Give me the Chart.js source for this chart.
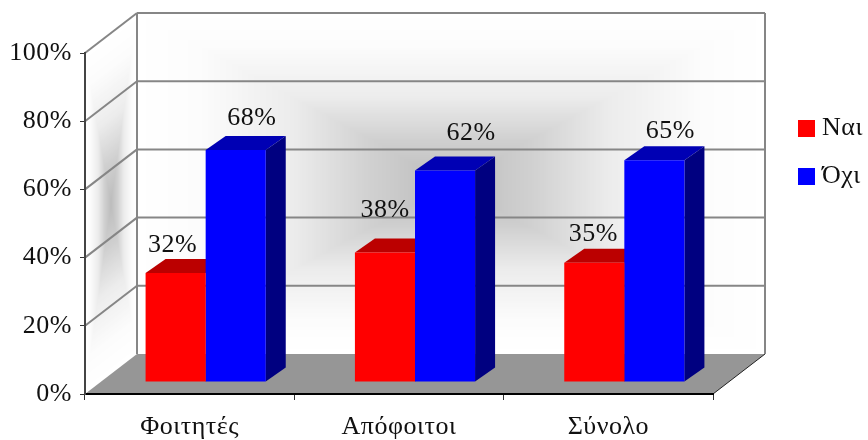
<!DOCTYPE html>
<html>
<head>
<meta charset="utf-8">
<title>Chart</title>
<style>
  html, body { margin: 0; padding: 0; background: #fff; }
  canvas { display: block; }
</style>
<script src="https://cdn.jsdelivr.net/npm/chart.js@4/dist/chart.umd.min.js"></script>
</head>
<body>
<canvas id="chart" width="868" height="440"></canvas>
<script>
const categories = ['Φοιτητές', 'Απόφοιτοι', 'Σύνολο'];
const yesValues = [32, 38, 35];
const noValues = [68, 62, 65];

const FONT = '"Liberation Serif", serif';
const FONT_SIZE = 26;

// hand placed value labels, px away from the top centre of each bar
const yesLabelOffsets = [[-3, -28], [0, -42], [-1, -28]];
const noLabelOffsets = [[16, -32], [26, -37], [16, -29]];

const WALL = { dx: 52, dy: -40 };     // depth of the chart box
const BAR_SHIFT = { dx: 16, dy: -12 }; // bars stand inside the floor
const BAR_DEPTH = { dx: 20, dy: -14 };
const GRID_COLOR = '#868686';

const barShades = [
  { top: '#bb0000', side: '#800000' },
  { top: '#0000b4', side: '#000080' }
];

// rectangular "path" gradient, white on the edges and grey in the middle
const GREY_STOPS = [[0, 255], [0.2, 252], [0.5, 236], [0.75, 208], [1, 188]];

function greyAt(t) {
  for (let i = 1; i < GREY_STOPS.length; i++) {
    const [t0, g0] = GREY_STOPS[i - 1];
    const [t1, g1] = GREY_STOPS[i];
    if (t <= t1) return g0 + (g1 - g0) * (t - t0) / (t1 - t0);
  }
  return 188;
}

function makeWallImage(w, h) {
  const c = document.createElement('canvas');
  c.width = w; c.height = h;
  const g = c.getContext('2d');
  const img = g.createImageData(w, h);
  for (let y = 0; y < h; y++) {
    for (let x = 0; x < w; x++) {
      const u = Math.abs((x + 0.5) / w * 2 - 1);
      const v = Math.abs((y + 0.5) / h * 2 - 1);
      const grey = greyAt(1 - Math.max(u, v));
      const i = (y * w + x) * 4;
      img.data[i] = img.data[i + 1] = img.data[i + 2] = grey;
      img.data[i + 3] = 255;
    }
  }
  g.putImageData(img, 0, 0);
  return c;
}

const wallImage = makeWallImage(314, 170);

function polygon(ctx, pts, fill) {
  ctx.beginPath();
  pts.forEach(([x, y], i) => (i ? ctx.lineTo(x, y) : ctx.moveTo(x, y)));
  ctx.closePath();
  ctx.fillStyle = fill;
  ctx.fill();
}

function line(ctx, x0, y0, x1, y1, color, width) {
  ctx.beginPath();
  ctx.moveTo(x0, y0);
  ctx.lineTo(x1, y1);
  ctx.strokeStyle = color;
  ctx.lineWidth = width;
  ctx.stroke();
}

const boxPlugin = {
  id: 'box3d',
  beforeDraw(chart) {
    const { ctx, chartArea: a, scales } = chart;
    const { dx, dy } = WALL;
    // stays on the context so the axis labels get it too
    ctx.letterSpacing = '0.5px';
    ctx.save();

    // back wall
    ctx.drawImage(wallImage, a.left + dx, a.top + dy, a.right - a.left, a.bottom - a.top);

    // left wall, same picture sheared into place
    ctx.save();
    ctx.transform(dx / wallImage.width, dy / wallImage.width, 0,
      (a.bottom - a.top) / wallImage.height, a.left, a.top);
    ctx.drawImage(wallImage, 0, 0);
    ctx.restore();

    // floor
    polygon(ctx, [[a.left, a.bottom], [a.right, a.bottom],
      [a.right + dx, a.bottom + dy], [a.left + dx, a.bottom + dy]], '#969696');
    line(ctx, a.right, a.bottom, a.right + dx, a.bottom + dy, '#222', 1);

    // gridlines over both walls
    scales.y.ticks.forEach(t => {
      if (t.value === 0) return;
      const y = scales.y.getPixelForValue(t.value);
      line(ctx, a.left, y, a.left + dx, y + dy, GRID_COLOR, 2);
      line(ctx, a.left + dx, y + dy, a.right + dx, y + dy, GRID_COLOR, 2);
    });
    line(ctx, a.left + dx, a.top + dy, a.left + dx, a.bottom + dy, GRID_COLOR, 2);
    line(ctx, a.right + dx, a.top + dy, a.right + dx, a.bottom + dy, GRID_COLOR, 2);
    ctx.restore();
  },
  beforeDatasetsDraw(chart) {
    const { ctx } = chart;
    ctx.save();
    ctx.translate(BAR_SHIFT.dx, BAR_SHIFT.dy);
    const { dx, dy } = BAR_DEPTH;
    chart.data.datasets.forEach((ds, di) => {
      chart.getDatasetMeta(di).data.forEach(bar => {
        const l = bar.x - bar.width / 2, r = bar.x + bar.width / 2;
        polygon(ctx, [[l, bar.y], [l + dx, bar.y + dy], [r + dx, bar.y + dy], [r, bar.y]], barShades[di].top);
        polygon(ctx, [[r, bar.y], [r + dx, bar.y + dy], [r + dx, bar.base + dy], [r, bar.base]], barShades[di].side);
      });
    });
  },
  afterDatasetsDraw(chart) {
    const { ctx } = chart;
    ctx.restore();

    // value labels
    ctx.save();
    ctx.font = FONT_SIZE + 'px ' + FONT;
    ctx.fillStyle = '#111';
    ctx.textAlign = 'center';
    ctx.textBaseline = 'middle';
    [yesLabelOffsets, noLabelOffsets].forEach((offsets, di) => {
      chart.getDatasetMeta(di).data.forEach((bar, i) => {
        const v = chart.data.datasets[di].data[i];
        ctx.fillText(v + '%', bar.x + BAR_SHIFT.dx + offsets[i][0],
          bar.y + BAR_SHIFT.dy + offsets[i][1]);
      });
    });

    // legend
    ctx.textAlign = 'left';
    chart.data.datasets.forEach((ds, di) => {
      const y = 120 + di * 48;
      ctx.fillStyle = ds.backgroundColor;
      ctx.fillRect(798, y, 17, 17);
      ctx.fillStyle = '#111';
      ctx.fillText(ds.label, 822, y + 8);
    });
    ctx.restore();
  }
};

const chart = new Chart(document.getElementById('chart').getContext('2d'), {
  type: 'bar',
  data: {
    labels: categories,
    datasets: [
      { label: 'Ναι', data: yesValues, backgroundColor: '#ff0000', borderWidth: 0 },
      { label: 'Όχι', data: noValues, backgroundColor: '#0000ff', borderWidth: 0 }
    ]
  },
  options: {
    responsive: false,
    animation: false,
    layout: { padding: { top: 53, right: 155, left: 0, bottom: 0 } },
    datasets: { bar: { barPercentage: 1, categoryPercentage: 0.574 } },
    plugins: { legend: { display: false }, tooltip: { enabled: false } },
    scales: {
      x: {
        afterFit: s => { s.height = 46; },
        border: { color: '#000', width: 2 },
        grid: { drawOnChartArea: false, color: '#333', tickLength: 6 },
        ticks: { color: '#111', padding: 12, maxRotation: 0, font: { family: FONT, size: FONT_SIZE } }
      },
      y: {
        min: 0,
        max: 100,
        afterFit: s => { s.width = 85; },
        border: { color: '#444', width: 2 },
        grid: { drawOnChartArea: false, color: '#333', tickLength: 5 },
        ticks: {
          stepSize: 20,
          color: '#111',
          padding: 8,
          font: { family: FONT, size: FONT_SIZE },
          callback: v => v + '%'
        }
      }
    }
  },
  plugins: [boxPlugin]
});
</script>
</body>
</html>
